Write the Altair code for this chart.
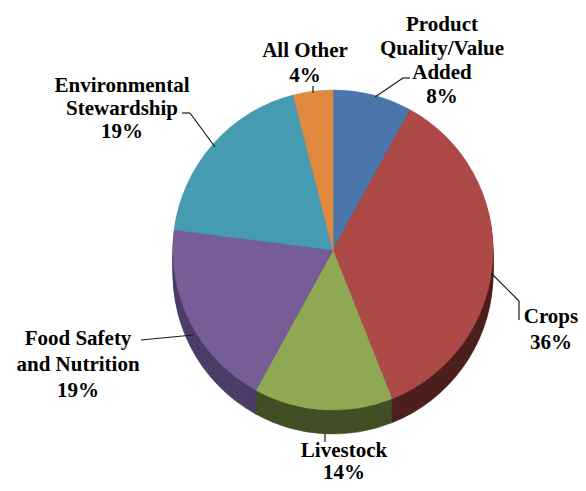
import altair as alt
import pandas as pd

# ---- data ----
categories = ["Product Quality/Value Added", "Crops", "Livestock",
              "Food Safety and Nutrition", "Environmental Stewardship", "All Other"]
shares = [8, 36, 14, 19, 19, 4]
label_text = ["Product\nQuality/Value\nAdded\n8%", "Crops\n36%", "Livestock\n14%",
              "Food Safety\nand Nutrition\n19%", "Environmental\nStewardship\n19%", "All Other\n4%"]
top_colors = ["#4a76ab", "#ad4a47", "#8ea952", "#775d97", "#449bb2", "#df8a3e"]
side_colors = ["#233a57", "#4d1f1e", "#414f24", "#4c3d68", "#225566", "#7a4a1f"]

df = pd.DataFrame({
    "category": categories,
    "share": shares,
    "top": top_colors,
    "side": side_colors,
    "idx": list(range(len(categories))),
})

# ---- layout (page coordinates, converted to plot coordinates) ----
M = 8
def P(v):
    return v - M

CX, CY, R, DEPTH = 333, 250, 160, 24

def pie(color_col, cy):
    return alt.Chart(df).mark_arc(radius=R, strokeWidth=0.6).encode(
        theta=alt.Theta("share:Q", stack=True),
        order=alt.Order("idx:Q"),
        color=alt.Color(f"{color_col}:N", scale=None, legend=None),
        stroke=alt.Stroke(f"{color_col}:N", scale=None, legend=None),
        x=alt.value(P(CX)),
        y=alt.value(P(cy)),
    )

layers = []
for d in range(DEPTH, 0, -2):
    layers.append(pie("side", CY + d))
layers.append(pie("top", CY))

# leader lines (x1, y1, x2, y2) in page coordinates
leaders = [
    (410, 78, 403, 78), (403, 78, 375, 97),
    (313, 86, 313, 93),
    (182, 113, 190, 113), (190, 113, 215, 147),
    (491, 273, 519, 301), (519, 301, 519, 320),
    (141, 340, 193, 335),
    (325, 434, 325, 442),
]
base = alt.Chart(pd.DataFrame({"k": [0]}))
for x1, y1, x2, y2 in leaders:
    layers.append(base.mark_rule(color="#1a1a1a", strokeWidth=1.2).encode(
        x=alt.value(P(x1)), y=alt.value(P(y1)),
        x2=alt.value(P(x2)), y2=alt.value(P(y2))))

# label positions: (center x, first baseline, line height)
label_pos = [(442, 31, 24), (551, 323, 26), (344, 457, 22),
             (78, 345, 26), (122, 92, 23), (305, 57, 25)]
for txt, (lx, ly, lh) in zip(label_text, label_pos):
    layers.append(base.mark_text(
        font="Liberation Serif", fontWeight="bold", fontSize=21, color="#000000",
        align="center", baseline="alphabetic", lineBreak="\n", lineHeight=lh,
    ).encode(x=alt.value(P(lx)), y=alt.value(P(ly)), text=alt.value(txt)))

chart = alt.layer(*layers).properties(
    width=570, height=475,
    autosize=alt.AutoSizeParams(type="none"),
    padding=0,
).configure_view(stroke=None)

chart.save("out.html", embed_options={"renderer": "svg", "actions": False})
